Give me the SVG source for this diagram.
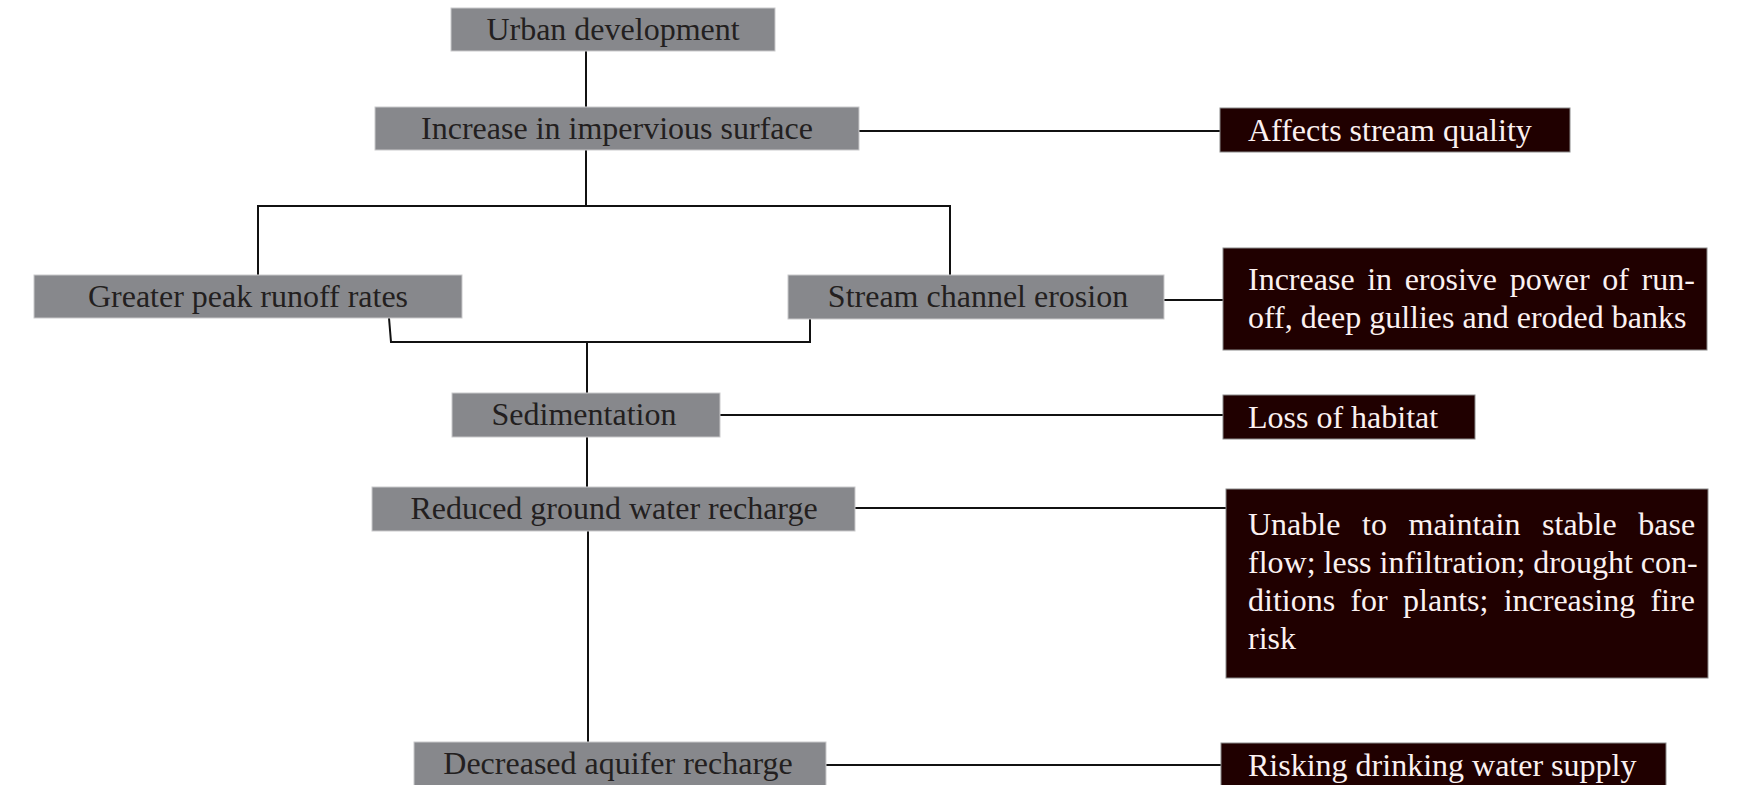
<svg xmlns="http://www.w3.org/2000/svg" width="1737" height="785" viewBox="0 0 1737 785">
<style>
  .g rect { fill: #87888c; stroke: #c9c9cb; stroke-width: 1; }
  .d rect { fill: #200000; stroke: #8a8a8a; stroke-width: 1; }
  text { font-family: "Liberation Serif", "Times New Roman", serif; font-size: 32px; }
  .g text { fill: #231f20; text-anchor: middle; }
  .d text { fill: #fbf1f1; }
  #connectors path, #connectors line { stroke: #111; stroke-width: 2; fill: none; }
</style>
<rect width="1737" height="785" fill="#ffffff"/>
<g id="connectors">
  <line x1="586" y1="51" x2="586" y2="107"/>
  <line x1="586" y1="150" x2="586" y2="206"/>
  <path d="M258 275 V206 H950 V275"/>
  <line x1="859" y1="131" x2="1220" y2="131"/>
  <line x1="1164" y1="300" x2="1223" y2="300"/>
  <path d="M389 318 L391 342 H810 V318"/>
  <line x1="587" y1="342" x2="587" y2="393"/>
  <line x1="720" y1="415" x2="1223" y2="415"/>
  <line x1="587" y1="437" x2="587" y2="487"/>
  <line x1="855" y1="508" x2="1226" y2="508"/>
  <line x1="588" y1="531" x2="588" y2="742"/>
  <line x1="826" y1="765" x2="1221" y2="765"/>
</g>
<g id="urban" class="g">
  <rect x="451" y="8" width="324" height="43"/>
  <text x="613" y="40">Urban development</text>
</g>
<g id="impervious" class="g">
  <rect x="375" y="107" width="484" height="43"/>
  <text x="617" y="139">Increase in impervious surface</text>
</g>
<g id="quality" class="d">
  <rect x="1220" y="108" width="350" height="44"/>
  <text x="1248" y="141">Affects stream quality</text>
</g>
<g id="runoff" class="g">
  <rect x="34" y="275" width="428" height="43"/>
  <text x="248" y="307">Greater peak runoff rates</text>
</g>
<g id="erosion" class="g">
  <rect x="788" y="275" width="376" height="44"/>
  <text x="978" y="307">Stream channel erosion</text>
</g>
<g id="erosive" class="d">
  <rect x="1223" y="248" width="484" height="102"/>
  <text x="1248" y="290" word-spacing="4.6">Increase in erosive power of run-</text>
  <text x="1248" y="328">off, deep gullies and eroded banks</text>
</g>
<g id="sedimentation" class="g">
  <rect x="452" y="393" width="268" height="44"/>
  <text x="584" y="425">Sedimentation</text>
</g>
<g id="habitat" class="d">
  <rect x="1223" y="395" width="252" height="44"/>
  <text x="1248" y="428">Loss of habitat</text>
</g>
<g id="groundwater" class="g">
  <rect x="372" y="487" width="483" height="44"/>
  <text x="614" y="519">Reduced ground water recharge</text>
</g>
<g id="baseflow" class="d">
  <rect x="1226" y="489" width="482" height="189"/>
  <text x="1248" y="535" word-spacing="13.6">Unable to maintain stable base</text>
  <text x="1248" y="573">flow; less infiltration; drought con-</text>
  <text x="1248" y="611" word-spacing="7.3">ditions for plants; increasing fire</text>
  <text x="1248" y="649">risk</text>
</g>
<g id="aquifer" class="g">
  <rect x="414" y="742" width="412" height="45"/>
  <text x="618" y="774">Decreased aquifer recharge</text>
</g>
<g id="drinking" class="d">
  <rect x="1221" y="743" width="445" height="44"/>
  <text x="1248" y="776">Risking drinking water supply</text>
</g>
</svg>
